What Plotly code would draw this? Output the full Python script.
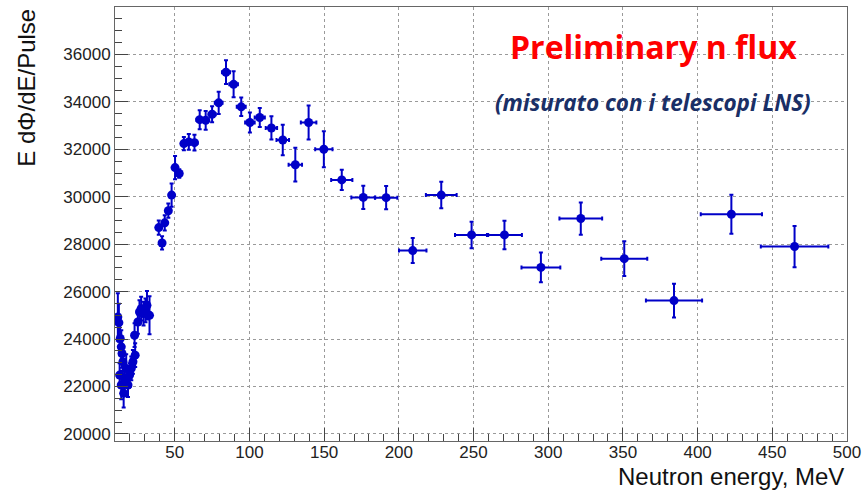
import plotly.graph_objects as go

# Low-energy region (closely spaced points)
e_low = [11.9, 12.6, 13.5, 14.2, 14.7, 15.3, 13.1, 14.2, 15.8, 16.4, 17.5, 18.7,
         19.8, 20.9, 22.0, 23.1, 23.5, 25.3, 26.4, 27.5, 29.1, 30.4, 31.4, 33.1]
flux_low = [24930, 24690, 24020, 23670, 23390, 23040, 22480, 22060, 21710, 22340,
            22760, 22060, 22480, 22760, 23040, 24160, 23320, 24720, 25140, 25280,
            25070, 25210, 25420, 25000]
de_low = [0.4] * len(e_low)
dflux_low = [1000, 800, 700, 700, 600, 600, 500, 600, 600, 600, 600, 500,
             500, 500, 500, 500, 500, 500, 500, 500, 500, 500, 600, 800]

# Higher-energy bins
e_high = [39.3, 41.5, 43.3, 45.7, 47.9, 50.2, 53.0, 56.1, 59.4, 63.2, 66.7, 70.7,
          75.0, 79.4, 84.3, 89.4, 94.5, 100.3, 106.9, 114.7, 122.3, 130.7, 139.6,
          149.8, 161.8, 176.2, 191.5, 209.3, 228.4, 248.7, 270.7, 295.1, 321.8,
          350.9, 384.2, 422.6, 464.9]
flux_high = [28700, 28050, 28900, 29410, 30070, 31230, 30980, 32240, 32310, 32280,
             33250, 33220, 33480, 33960, 35250, 34740, 33790, 33130, 33340, 32900,
             32390, 31350, 33130, 32000, 30710, 29970, 29960, 27730, 30070, 28390,
             28390, 27020, 29080, 27390, 25620, 29260, 27900]
de_high = [1.0, 1.0, 1.0, 1.2, 1.2, 1.3, 1.3, 1.8, 1.9, 2.0, 2.2, 2.3, 2.4, 2.6,
           2.7, 2.9, 3.0, 3.2, 3.4, 3.8, 4.2, 4.5, 5.2, 5.8, 7.1, 8.0, 7.5, 9.2,
           10.3, 11.1, 11.7, 13.0, 14.3, 15.4, 18.8, 20.5, 22.6]
dflux_high = [300, 280, 320, 300, 490, 490, 180, 280, 330, 330, 400, 400, 340, 470,
              500, 550, 390, 420, 400, 490, 640, 710, 720, 760, 430, 490, 490, 525,
              560, 560, 600, 630, 680, 730, 715, 820, 870]

energy = e_low + e_high
flux = flux_low + flux_high
d_energy = de_low + de_high
d_flux = dflux_low + dflux_high

BLUE = "#0000c8"
FONT = "Liberation Sans"

fig = go.Figure()
fig.add_trace(go.Scatter(
    x=energy, y=flux, mode="markers",
    marker=dict(color=BLUE, size=9, symbol="circle"),
    error_x=dict(type="data", array=d_energy, color=BLUE, thickness=2, width=2),
    error_y=dict(type="data", array=d_flux, color=BLUE, thickness=2, width=2),
    showlegend=False,
))

axis_common = dict(
    showline=True, linecolor="#666", linewidth=1, mirror=True,
    ticks="inside", tickcolor="#444", tickwidth=1,
    showgrid=True, gridcolor="#9a9a9a", griddash="dot", gridwidth=1,
    zeroline=False,
    tickfont=dict(family=FONT, size=17, color="#222"),
)

fig.update_xaxes(
    range=[10, 500], tick0=0, dtick=50, ticklen=13, ticklabelstandoff=-4,
    minor=dict(ticks="inside", dtick=10, ticklen=7, tickcolor="#444", showgrid=False),
    **axis_common,
)
fig.update_yaxes(
    range=[19700, 38000], tick0=0, dtick=2000, ticklen=13,
    minor=dict(ticks="inside", dtick=500, ticklen=7, tickcolor="#444", showgrid=False),
    tickformat="d",
    **axis_common,
)

fig.update_layout(
    width=867, height=492,
    margin=dict(l=115, r=16, t=6, b=51),
    paper_bgcolor="white", plot_bgcolor="white",
    annotations=[
        dict(text="E d\u03a6/dE/Pulse", textangle=-90, xref="paper", yref="paper",
             x=-0.122, y=1.0, xanchor="center", yanchor="top", showarrow=False,
             font=dict(family=FONT, size=24, color="#111")),
        dict(text="Neutron energy, MeV", xref="paper", yref="paper",
             x=0.998, y=-0.1165, xanchor="right", yanchor="bottom", showarrow=False,
             font=dict(family=FONT, size=24, color="#111")),
        dict(text="<b>Preliminary n flux</b>", xref="paper", yref="paper",
             x=0.735, y=0.91, xanchor="center", yanchor="middle", showarrow=False,
             font=dict(family="Open Sans", size=32, color="#ff0000")),
        dict(text="<b><i>(misurato con i telescopi LNS)</i></b>", xref="paper", yref="paper",
             x=0.735, y=0.78, xanchor="center", yanchor="middle", showarrow=False,
             font=dict(family="Open Sans", size=22.5, color="#1a2f66")),
    ],
)

fig.write_html("out.html")
